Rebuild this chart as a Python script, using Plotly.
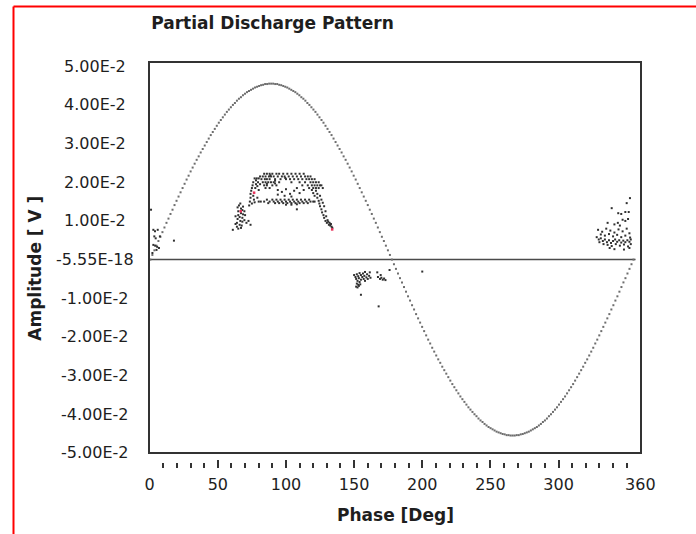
import numpy as np
import plotly.graph_objects as go

# ---------------------------------------------------------------- data
# Reference voltage waveform, one sample per dot (units of 1e-4 V)
ref_wave_e4 = [
    0, 12, 24, 36, 48, 59, 71, 83, 95, 106, 118, 129, 141, 152, 163, 174, 185, 196, 207, 217,
    228, 238, 248, 258, 267, 277, 286, 295, 304, 313, 322, 330, 338, 346, 354, 361, 368, 375, 382, 388,
    394, 400, 405, 411, 416, 420, 425, 429, 433, 436, 439, 442, 445, 447, 449, 451, 452, 454, 454, 455,
    455, 455, 454, 454, 452, 451, 449, 447, 445, 442, 439, 436, 433, 429, 425, 420, 416, 411, 405, 400,
    394, 388, 382, 375, 368, 361, 354, 346, 338, 330, 322, 313, 304, 295, 286, 277, 267, 258, 248, 238,
    228, 217, 207, 196, 185, 174, 163, 152, 141, 129, 118, 106, 95, 83, 71, 59, 48, 36, 24, 12,
    0, -12, -24, -36, -48, -59, -71, -83, -95, -106, -118, -129, -141, -152, -163, -174, -185, -196, -207, -217,
    -228, -238, -248, -258, -267, -277, -286, -295, -304, -313, -322, -330, -338, -346, -354, -361, -368, -375, -382, -388,
    -394, -400, -405, -411, -416, -420, -425, -429, -433, -436, -439, -442, -445, -447, -449, -451, -452, -454, -454, -455,
    -455, -455, -454, -454, -452, -451, -449, -447, -445, -442, -439, -436, -433, -429, -425, -420, -416, -411, -405, -400,
    -394, -388, -382, -375, -368, -361, -354, -346, -338, -330, -322, -313, -304, -295, -286, -277, -267, -258, -248, -238,
    -228, -217, -207, -196, -185, -174, -163, -152, -141, -129, -118, -106, -95, -83, -71, -59, -48, -36, -24, -12,
    0,
]
wave_start_deg = 0.5
wave_end_deg = 355.0

# Zero reference line
zero_line_phase = [0.0, 356.5]
zero_line_amp = [0.0, 0.0]

# Discharge pulses (phase in degrees, amplitude in V)
pulses_near_zero = [
    (1.0, 0.0129), (2.7, 0.0077), (3.9, 0.0073), (5.9, 0.0077), (3.4, 0.0060), (4.4, 0.0055),
    (7.5, 0.0060), (2.7, 0.0038), (4.0, 0.0036), (5.5, 0.0033), (6.8, 0.0030), (2.0, 0.0017),
    (5.0, 0.0025), (17.8, 0.0049),
]

pulses_positive = [
    # lower-left group
    (61.0, 0.0077), (63.0, 0.0092), (63.0, 0.0112), (64.0, 0.0085), (64.0, 0.0095), (64.5, 0.0105),
    (65.0, 0.0115), (65.0, 0.0125), (64.5, 0.0135), (65.5, 0.0140), (65.0, 0.0080), (66.0, 0.0090),
    (66.5, 0.0100), (66.0, 0.0110), (67.0, 0.0120), (67.0, 0.0132), (66.5, 0.0145), (67.0, 0.0082),
    (67.5, 0.0088), (68.0, 0.0098), (68.0, 0.0108), (68.5, 0.0117), (68.0, 0.0128), (68.5, 0.0137),
    (69.5, 0.0102), (70.0, 0.0115), (69.5, 0.0125), (71.0, 0.0095), (72.5, 0.0100), (74.0, 0.0090),
    # left leg
    (73.0, 0.0140), (73.5, 0.0150), (74.0, 0.0160), (74.0, 0.0170), (74.5, 0.0178), (75.0, 0.0185),
    (75.5, 0.0192), (76.0, 0.0200), (76.0, 0.0165), (76.5, 0.0155), (77.0, 0.0148), (75.0, 0.0145),
    (77.5, 0.0185), (78.0, 0.0195), (78.0, 0.0205), (78.5, 0.0210), (79.0, 0.0190), (79.5, 0.0200),
    (80.0, 0.0210), (80.0, 0.0180), (81.0, 0.0195), (77.0, 0.0210), (79.0, 0.0160), (80.0, 0.0150),
    (81.5, 0.0150),
    # upper band
    (84.0, 0.0222), (86.0, 0.0222), (88.0, 0.0222), (90.0, 0.0222), (93.0, 0.0222), (95.0, 0.0222),
    (98.0, 0.0222), (101.0, 0.0222), (104.0, 0.0222), (107.0, 0.0222), (110.0, 0.0222), (113.0, 0.0222),
    (81.0, 0.0215), (83.0, 0.0215), (85.0, 0.0215), (87.5, 0.0215), (89.0, 0.0215), (91.0, 0.0215),
    (94.0, 0.0215), (97.0, 0.0215), (99.0, 0.0215), (102.0, 0.0215), (105.0, 0.0215), (108.0, 0.0215),
    (111.0, 0.0215), (114.0, 0.0215), (116.0, 0.0215), (118.0, 0.0215),
    (82.0, 0.0208), (84.5, 0.0208), (86.0, 0.0208), (88.0, 0.0208), (92.0, 0.0208), (96.0, 0.0208),
    (100.0, 0.0208), (103.0, 0.0208), (106.0, 0.0208), (109.0, 0.0208), (112.0, 0.0208), (115.0, 0.0208),
    (117.0, 0.0208), (119.0, 0.0208), (121.0, 0.0208),
    (83.0, 0.0200), (85.0, 0.0200), (87.0, 0.0200), (89.0, 0.0200), (91.0, 0.0200), (95.0, 0.0200),
    (104.0, 0.0200), (110.0, 0.0200), (114.0, 0.0200), (118.0, 0.0200), (120.0, 0.0200), (122.0, 0.0200),
    (124.0, 0.0200),
    (84.0, 0.0192), (86.0, 0.0192), (90.0, 0.0192), (93.0, 0.0192), (112.0, 0.0192), (116.0, 0.0192),
    (119.0, 0.0192), (121.0, 0.0192), (123.0, 0.0192), (125.0, 0.0192), (126.0, 0.0192),
    (85.0, 0.0185), (88.0, 0.0185), (117.0, 0.0185), (120.0, 0.0185), (122.0, 0.0185), (124.0, 0.0185),
    (127.0, 0.0185), (86.0, 0.0196), (92.0, 0.0204), (92.0, 0.0197), (88.5, 0.0218), (99.5, 0.0211),
    # sparse middle
    (94.0, 0.0180), (97.0, 0.0175), (100.0, 0.0182), (103.0, 0.0170), (106.0, 0.0178), (110.0, 0.0172),
    (99.0, 0.0165), (104.0, 0.0163), (94.0, 0.0168), (113.0, 0.0180), (108.0, 0.0185),
    # lower band
    (86.0, 0.0155), (90.0, 0.0155), (93.0, 0.0155), (96.0, 0.0155), (99.0, 0.0155), (102.0, 0.0155),
    (105.0, 0.0155), (108.0, 0.0155), (111.0, 0.0155), (114.0, 0.0155), (117.0, 0.0155),
    (84.0, 0.0150), (88.0, 0.0150), (91.0, 0.0150), (94.0, 0.0150), (97.0, 0.0150), (100.0, 0.0150),
    (103.0, 0.0150), (106.0, 0.0150), (109.0, 0.0150), (112.0, 0.0150), (115.0, 0.0150), (118.0, 0.0150),
    (120.0, 0.0150),
    (87.0, 0.0146), (92.0, 0.0146), (95.0, 0.0146), (98.0, 0.0146), (101.0, 0.0146), (104.0, 0.0146),
    (107.0, 0.0146), (110.0, 0.0146), (113.0, 0.0146), (116.0, 0.0146),
    (100.0, 0.0142), (104.0, 0.0142), (108.0, 0.0143), (108.0, 0.0130),
    # right leg
    (119.0, 0.0180), (120.0, 0.0172), (121.0, 0.0165), (122.0, 0.0178), (123.0, 0.0170), (123.0, 0.0160),
    (124.0, 0.0152), (124.5, 0.0145), (125.0, 0.0138), (125.0, 0.0165), (126.0, 0.0155), (126.0, 0.0130),
    (126.5, 0.0122), (127.0, 0.0147), (127.5, 0.0115), (128.0, 0.0138), (128.0, 0.0108), (129.0, 0.0125),
    (121.0, 0.0150), (129.5, 0.0112),
    # lower-right group
    (129.0, 0.0100), (130.0, 0.0095), (130.5, 0.0102), (131.0, 0.0098), (132.0, 0.0095), (132.5, 0.0088),
    (133.0, 0.0092), (133.5, 0.0085), (134.0, 0.0082), (131.5, 0.0090),
]

pulses_negative = [
    (150.0, -0.0040), (151.0, -0.0045), (151.5, -0.0050), (152.0, -0.0038), (152.5, -0.0055),
    (153.0, -0.0043), (153.5, -0.0048), (154.0, -0.0035), (154.0, -0.0058), (155.0, -0.0040),
    (155.0, -0.0052), (156.0, -0.0045), (156.5, -0.0036), (157.0, -0.0050), (157.5, -0.0042),
    (158.0, -0.0032), (158.0, -0.0055), (159.0, -0.0046), (159.5, -0.0038), (160.0, -0.0050),
    (161.0, -0.0042), (161.5, -0.0033), (162.0, -0.0047), (152.0, -0.0062), (153.0, -0.0065),
    (153.5, -0.0068), (154.5, -0.0064), (151.5, -0.0070), (152.5, -0.0072),
    (155.0, -0.0091), (168.0, -0.0121), (200.0, -0.0031),
    (167.0, -0.0033), (167.5, -0.0045), (169.0, -0.0050), (170.0, -0.0047), (171.0, -0.0052),
    (172.0, -0.0049), (169.5, -0.0040), (173.0, -0.0053), (176.0, -0.0027),
]

pulses_late = [
    (352.4, 0.0159), (350.0, 0.0146), (339.0, 0.0133), (343.8, 0.0120), (346.0, 0.0118), (349.0, 0.0123),
    (351.5, 0.0123), (347.0, 0.0103), (349.0, 0.0100), (351.0, 0.0105), (336.0, 0.0095), (341.0, 0.0091),
    (343.5, 0.0095), (345.0, 0.0088),
    (329.0, 0.0077), (332.0, 0.0072), (335.0, 0.0080), (338.0, 0.0075), (341.0, 0.0070), (344.0, 0.0078),
    (347.0, 0.0073), (350.0, 0.0080), (352.0, 0.0068), (331.0, 0.0065), (334.0, 0.0062), (337.0, 0.0066),
    (340.0, 0.0060), (343.0, 0.0064), (346.0, 0.0058), (349.0, 0.0062), (352.5, 0.0057),
    (328.0, 0.0058), (329.5, 0.0052), (331.0, 0.0055), (332.5, 0.0048), (334.0, 0.0052), (335.5, 0.0045),
    (337.0, 0.0050), (338.5, 0.0043), (340.0, 0.0048), (341.5, 0.0052), (343.0, 0.0046), (344.5, 0.0050),
    (346.0, 0.0044), (347.5, 0.0049), (349.0, 0.0045), (350.5, 0.0050), (352.0, 0.0046), (353.0, 0.0052),
    (330.0, 0.0045), (333.0, 0.0040), (336.0, 0.0038), (339.0, 0.0035), (342.0, 0.0040), (345.0, 0.0036),
    (348.0, 0.0039), (351.0, 0.0034), (353.0, 0.0040), (337.5, 0.0030), (341.0, 0.0027), (348.0, 0.0026),
    (352.0, 0.0030),
]

# Highlighted pulses
pulses_marked = [(66.8, 0.0125), (76.6, 0.0173), (133.9, 0.0078)]

# Axis ticks
phase_ticks = [0, 50, 100, 150, 200, 250, 300, 360]
amp_ticks = [0.05, 0.04, 0.03, 0.02, 0.01, 0.0, -0.01, -0.02, -0.03, -0.04, -0.05]
amp_tick_labels = ["5.00E-2", "4.00E-2", "3.00E-2", "2.00E-2", "1.00E-2", "-5.55E-18",
                   "-1.00E-2", "-2.00E-2", "-3.00E-2", "-4.00E-2", "-5.00E-2"]

# ---------------------------------------------------------------- figure
FONT = "DejaVu Sans"
TXT = "#1e1e1e"
X_RANGE = [-0.5, 360.5]
Y_RANGE = [-0.0539, 0.0511]

wave_phase = np.linspace(wave_start_deg, wave_end_deg, len(ref_wave_e4))
wave_amp = np.array(ref_wave_e4) * 1e-4

pulses = pulses_near_zero + pulses_positive + pulses_negative + pulses_late
p_phase, p_amp = zip(*pulses)
m_phase, m_amp = zip(*pulses_marked)

fig = go.Figure()
fig.add_trace(go.Scatter(x=zero_line_phase, y=zero_line_amp, mode="lines",
                         line=dict(color="#4a4a4a", width=1.5), hoverinfo="skip"))
fig.add_trace(go.Scatter(x=wave_phase, y=wave_amp, mode="markers",
                         marker=dict(symbol="square", size=2, color="#6e6e6e", line=dict(width=0))))
fig.add_trace(go.Scatter(x=p_phase, y=p_amp, mode="markers",
                         marker=dict(symbol="square", size=2, color="#303030", line=dict(width=0))))
fig.add_trace(go.Scatter(x=m_phase, y=m_amp, mode="markers",
                         marker=dict(symbol="square", size=2.5, color="#e8335a", line=dict(width=0))))

# Centered amplitude labels beside the plot
for v, lab in zip(amp_ticks, amp_tick_labels):
    fig.add_annotation(x=-0.1098, xref="paper", y=v, yref="y", text=lab, showarrow=False,
                       xanchor="center", yanchor="middle",
                       font=dict(family=FONT, size=16, color=TXT))

# Axis titles
fig.add_annotation(x=0.5, xref="paper", y=-0.115, yref="paper", text="Phase [Deg]",
                   showarrow=False, xanchor="center", yanchor="middle",
                   font=dict(family=FONT, size=17, color=TXT, weight="bold"))
fig.add_annotation(x=-0.232, xref="paper", y=0.493, yref="paper", text="Amplitude [ V ]",
                   textangle=-90, showarrow=False, xanchor="center", yanchor="middle",
                   font=dict(family=FONT, size=17, color=TXT, weight="bold"))

# Plot frame (from -0.05 V to the top of the plot area)
frame_bottom = (-0.05 - Y_RANGE[0]) / (Y_RANGE[1] - Y_RANGE[0])
fig.add_shape(type="rect", xref="paper", yref="paper", x0=0, x1=1, y0=frame_bottom, y1=1,
              line=dict(color="#333333", width=2), fillcolor="rgba(0,0,0,0)", layer="above")

# Red outer border
fig.add_shape(type="line", xref="paper", yref="paper", x0=-0.2754, x1=1.2, y0=1.1367, y1=1.1367,
              line=dict(color="#ff0000", width=2))
fig.add_shape(type="line", xref="paper", yref="paper", x0=-0.2754, x1=-0.2754, y0=1.1367, y1=-0.25,
              line=dict(color="#ff0000", width=2))

fig.update_layout(
    width=696, height=534,
    margin=dict(l=149, r=55, t=62, b=66, pad=0),
    paper_bgcolor="white", plot_bgcolor="white",
    showlegend=False,
    title=dict(text="Partial Discharge Pattern", x=272.5 / 696, xref="container", xanchor="center",
               y=1 - 23 / 534, yref="container", yanchor="middle",
               font=dict(family=FONT, size=17, color=TXT, weight="bold")),
    xaxis=dict(range=X_RANGE, tickmode="array", tickvals=phase_ticks,
               ticks="inside", ticklen=8, tickwidth=1.5, tickcolor="#333333",
               minor=dict(tickmode="linear", tick0=0, dtick=10, ticks="inside", ticklen=5,
                          tickwidth=1.5, tickcolor="#333333"),
               showgrid=False, zeroline=False, showline=False, ticklabelstandoff=5,
               tickfont=dict(family=FONT, size=16, color=TXT)),
    yaxis=dict(range=Y_RANGE, showticklabels=False, ticks="", showgrid=False,
               zeroline=False, showline=False),
)

fig.write_html("out.html")
